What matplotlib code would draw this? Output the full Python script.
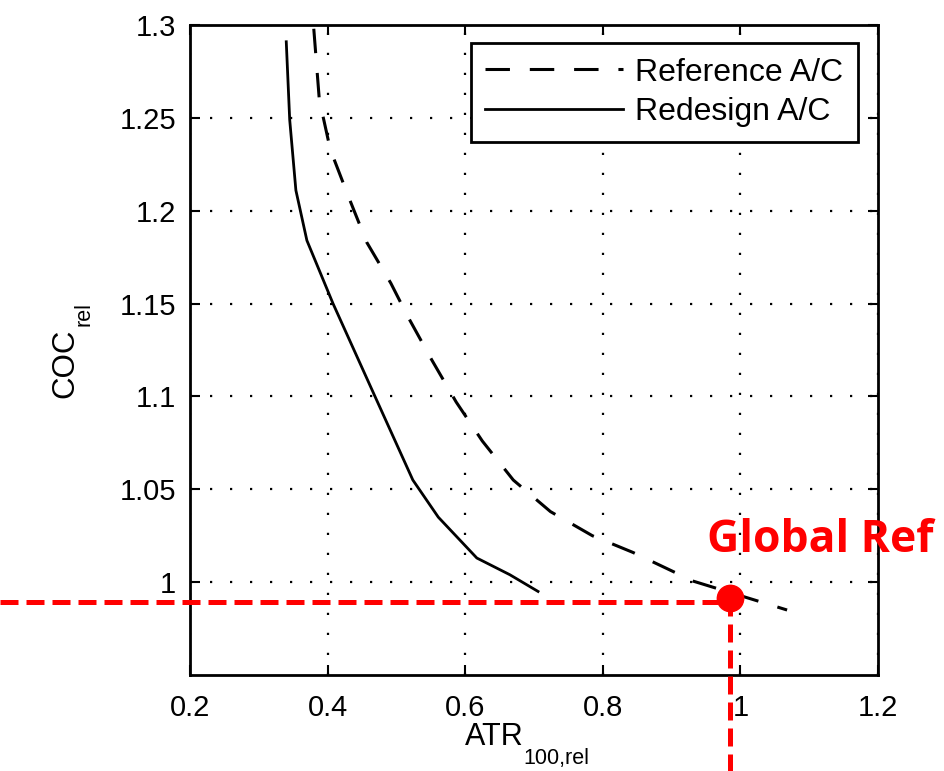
import numpy as np
import matplotlib
matplotlib.use("Agg")
import matplotlib.pyplot as plt

plt.rcParams['font.family'] = ['Liberation Sans', 'DejaVu Sans']

# ============================== DATA ==============================
# Reference A/C (dashed)
ref_atr = [0.380, 0.388, 0.404, 0.430, 0.457, 0.492, 0.516, 0.551, 0.587,
           0.625, 0.670, 0.724, 0.785, 0.844, 0.932, 1.068]
ref_coc = [1.298, 1.260, 1.233, 1.208, 1.183, 1.161, 1.1435, 1.120, 1.097,
           1.076, 1.055, 1.038, 1.025, 1.016, 1.0005, 0.985]

# Redesign A/C (solid)
red_atr = [0.340, 0.345, 0.354, 0.370, 0.408, 0.469, 0.524, 0.561, 0.617,
           0.665, 0.706]
red_coc = [1.291, 1.249, 1.211, 1.184, 1.150, 1.100, 1.055, 1.035, 1.013,
           1.004, 0.995]

# global reference point and its guide lines
glob_atr = 0.985
glob_coc = 0.9914
guide_coc = 0.9893
guide_x_start = -0.076
guide_y_end = 0.898

x_ticks = [0.2, 0.4, 0.6, 0.8, 1.0, 1.2]
x_tick_labels = ['0.2', '0.4', '0.6', '0.8', '1', '1.2']
y_ticks = [1.0, 1.05, 1.1, 1.15, 1.2, 1.25, 1.3]
y_tick_labels = ['1', '1.05', '1.1', '1.15', '1.2', '1.25', '1.3']

# ============================== PLOT ==============================
fig = plt.figure(figsize=(9.45, 7.71), dpi=100)
ax = fig.add_axes([0.201, 0.1245, 0.728, 0.843])

ax.plot(ref_atr, ref_coc, color='black', lw=2.2, linestyle=(0, (8, 6.5)),
        label='Reference A/C')
ax.plot(red_atr, red_coc, color='black', lw=2.0, linestyle='-',
        label='Redesign A/C')

ax.set_xlim(0.2, 1.2)
ax.set_ylim(0.95, 1.3)
ax.set_xticks(x_ticks)
ax.set_xticklabels(x_tick_labels)
ax.set_yticks(y_ticks)
ax.set_yticklabels(y_tick_labels)

ax.grid(True, color='black', lw=1.6, linestyle=(0, (1, 8)))
ax.tick_params(direction='in', length=7, width=1.5, top=True, right=True,
               labelsize=21)
ax.tick_params(axis='x', pad=14)
ax.tick_params(axis='y', pad=10)
for s in ax.spines.values():
    s.set_linewidth(2)

# axis labels with a deep subscript, placed by hand (figure fractions)
fig.text(0.4921, 0.0337, 'ATR', fontsize=22, ha='left', va='baseline')
fig.text(0.5534, 0.0095, '100,rel', fontsize=15.5, ha='left', va='baseline')
fig.text(0.0772, 0.4838, 'COC', fontsize=22.5, rotation=90,
         rotation_mode='anchor', ha='left', va='baseline')
fig.text(0.0942, 0.5772, 'rel', fontsize=15.5, rotation=90,
         rotation_mode='anchor', ha='left', va='baseline')

leg = ax.legend(loc='upper right', bbox_to_anchor=(0.971, 0.972),
                borderaxespad=0, fontsize=23, handlelength=4.3,
                fancybox=False, framealpha=1, edgecolor='black',
                labelspacing=0.3, handletextpad=0.4, borderpad=0.45)
leg.get_frame().set_linewidth(2)

# global reference marker, drawn past the axes edges
ax.plot([guide_x_start, glob_atr], [guide_coc, guide_coc], color='red',
        lw=3.6, linestyle=(0, (3.6, 1.6)), clip_on=False, zorder=5)
ax.plot([glob_atr, glob_atr], [glob_coc, guide_y_end], color='red',
        lw=3.6, linestyle=(0, (3.6, 1.6)), clip_on=False, zorder=5)
ax.plot([glob_atr], [glob_coc], 'o', color='red', markersize=19,
        clip_on=False, zorder=6)
ax.text(0.952, 1.0161, 'Global Ref', color='red', fontsize=32,
        fontweight='bold', family=['Open Sans', 'DejaVu Sans'],
        ha='left', va='baseline', clip_on=False)

fig.savefig('out.png', dpi=100)
